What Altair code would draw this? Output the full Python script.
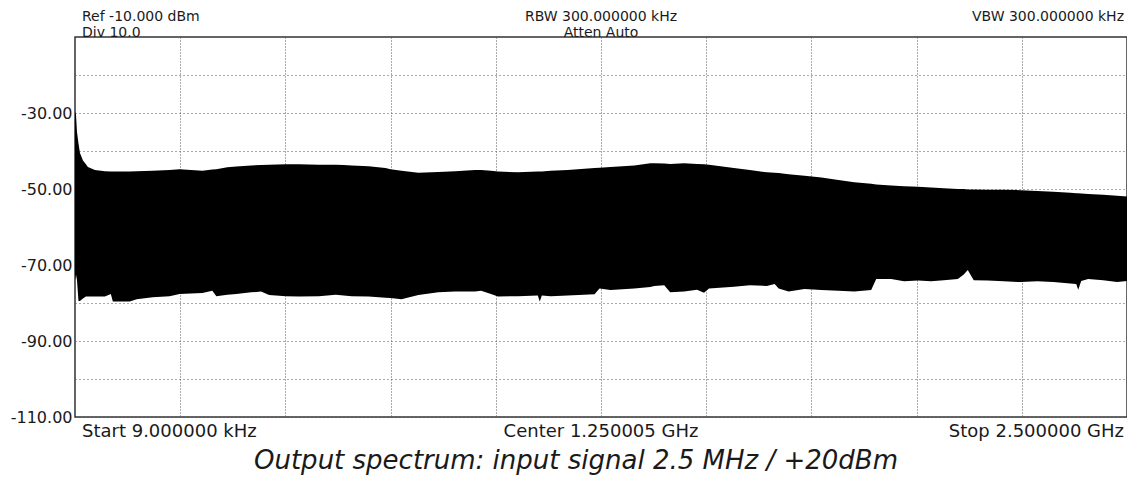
import altair as alt
import pandas as pd

# Frequency (MHz) and envelope values (dBm)
freq_mhz = [0.009, 2.4, 4.7, 8.3, 11.8, 18.9, 26.0, 30.7, 47.3, 71.0, 85.1, 89.9,
            130.1, 146.6, 184.5, 224.7, 248.4, 302.8, 326.4, 335.9, 361.9, 383.2,
            418.7, 442.3, 461.2, 501.4, 532.2, 579.5, 619.7, 638.6, 657.5, 697.7,
            737.9, 749.8, 775.8, 816.0, 863.3, 903.5, 950.8, 965.0, 988.6, 1005.2,
            1052.5, 1099.8, 1104.5, 1109.3, 1130.6, 1170.8, 1234.6, 1246.4, 1272.5,
            1329.2, 1367.1, 1376.5, 1400.2, 1414.4, 1447.5, 1478.2, 1494.8, 1506.6,
            1565.8, 1603.6, 1643.8, 1662.7, 1672.2, 1695.8, 1733.7, 1773.9, 1814.1,
            1851.9, 1892.1, 1904.0, 1939.5, 1970.2, 2003.4, 2034.1, 2064.8, 2097.9,
            2112.1, 2121.6, 2135.8, 2168.9, 2206.7, 2246.9, 2287.1, 2325.0, 2365.2,
            2379.4, 2384.1, 2391.2, 2407.8, 2443.3, 2476.4, 2500.0]

upper_dbm = [-29.5, -30.5, -35.0, -38.0, -40.5, -42.5, -43.5, -44.2, -45.0, -45.3, -45.4, -45.4,
             -45.4, -45.3, -45.2, -45.0, -44.8, -45.2, -44.9, -44.8, -44.3, -44.1,
             -43.8, -43.7, -43.6, -43.5, -43.5, -43.6, -43.6, -43.7, -43.8, -44.0,
             -44.5, -44.8, -45.2, -45.7, -45.5, -45.3, -45.0, -45.0, -45.2, -45.4,
             -45.6, -45.4, -45.4, -45.4, -45.2, -45.0, -44.5, -44.4, -44.2,
             -43.8, -43.2, -43.2, -43.3, -43.4, -43.2, -43.4, -43.5, -43.6,
             -44.5, -45.0, -45.6, -45.7, -45.8, -46.1, -46.5, -47.0, -47.6,
             -48.2, -48.6, -48.8, -49.1, -49.3, -49.4, -49.6, -49.8, -50.0,
             -50.0, -50.1, -50.1, -50.2, -50.2, -50.3, -50.5, -50.7, -51.0,
             -51.1, -51.1, -51.2, -51.3, -51.5, -51.8, -52.0]

lower_dbm = [-74.0, -72.5, -74.0, -79.5, -79.5, -78.8, -78.3, -78.3, -78.3, -78.3, -77.6, -79.6,
             -79.6, -79.0, -78.5, -78.2, -77.6, -77.4, -76.8, -78.2, -77.8, -77.6,
             -77.2, -77.0, -77.9, -78.2, -78.3, -78.2, -77.8, -78.0, -78.2, -78.3,
             -78.6, -78.7, -79.0, -77.9, -77.2, -77.0, -77.0, -76.8, -77.6, -78.3,
             -78.2, -78.0, -79.6, -78.0, -78.2, -78.0, -77.7, -76.2, -76.6,
             -76.2, -75.8, -75.5, -75.3, -77.2, -77.0, -76.5, -77.3, -76.2,
             -75.7, -75.3, -75.5, -75.0, -76.2, -77.0, -76.3, -76.6, -76.8,
             -77.0, -76.6, -73.7, -73.7, -74.3, -74.1, -74.3, -74.0, -73.7,
             -72.5, -71.3, -74.0, -74.1, -74.3, -74.5, -74.3, -74.5, -74.9,
             -75.0, -76.5, -74.2, -73.7, -74.0, -74.5, -74.2]

y_ticks = [-110, -100, -90, -80, -70, -60, -50, -40, -30, -20]
x_grid = [250, 500, 750, 1000, 1250, 1500, 1750, 2000, 2250]

header_left = ["Ref -10.000 dBm", "Div 10.0"]
header_center = ["RBW 300.000000 kHz", "Atten Auto"]
header_right = ["VBW 300.000000 kHz"]
bottom_left = "Start 9.000000 kHz"
bottom_center = "Center 1.250005 GHz"
bottom_right = "Stop 2.500000 GHz"
caption = "Output spectrum: input signal 2.5 MHz / +20dBm"

FONT = "DejaVu Sans"
TXT = "#1a1a1a"

trace = pd.DataFrame({"f": freq_mhz, "hi": upper_dbm, "lo": lower_dbm})

xscale = alt.Scale(domain=[0, 2500], nice=False, zero=False)
yscale = alt.Scale(domain=[-110, -10], nice=False, zero=False)

area = alt.Chart(trace).mark_area(color="black", opacity=1, interpolate="linear").encode(
    x=alt.X("f:Q", scale=xscale,
            axis=alt.Axis(values=x_grid, labels=False, ticks=False, domain=False, title=None,
                          grid=True, gridDash=[1, 2], gridColor="#555", gridWidth=1)),
    y=alt.Y("hi:Q", scale=yscale,
            axis=alt.Axis(values=y_ticks, ticks=False, tickSize=0, domain=False, title=None,
                          grid=True, gridDash=[1, 3], gridColor="#555", gridWidth=1,
                          labelExpr="(abs(datum.value) - 10) % 20 == 0 ? datum.value + '.00' : ''",
                          labelFont=FONT, labelFontSize=16, labelColor=TXT, labelPadding=3,
                          labelFlush=False, labelBaseline="middle")),
    y2="lo:Q",
)


def text_layer(text, f, py, align, dx=0, size=14, style="normal"):
    df = pd.DataFrame({"t": [text], "f": [f]})
    return alt.Chart(df).mark_text(align=align, baseline="alphabetic", font=FONT, dx=dx,
                                   fontSize=size, fontStyle=style, color=TXT).encode(
        x=alt.X("f:Q", scale=xscale),
        y=alt.value(py),
        text="t:N",
    )


layers = [
    area,
    text_layer(header_left[0], 0, -16.5, "left", dx=7),
    text_layer(header_left[1], 0, -0.5, "left", dx=7),
    text_layer(header_center[0], 1250, -16.5, "center"),
    text_layer(header_center[1], 1250, -0.5, "center"),
    text_layer(header_right[0], 2500, -16.5, "right", dx=-3),
    text_layer(bottom_left, 0, 400, "left", dx=7, size=18),
    text_layer(bottom_center, 1250, 400, "center", size=18),
    text_layer(bottom_right, 2500, 400, "right", dx=-3, size=18),
]

cap = alt.Chart(pd.DataFrame({"t": [caption]})).mark_text(
    align="center", baseline="alphabetic", font=FONT, fontSize=26, fontStyle="italic", color=TXT
).encode(x=alt.value(501), y=alt.value(432), text="t:N")
layers.append(cap)

chart = alt.layer(*layers).properties(
    width=1052, height=380,
    autosize=alt.AutoSizeParams(type="none"),
    padding={"left": 67, "top": 29, "right": 0, "bottom": 58},
    background="white",
).configure_view(stroke="#333", strokeWidth=1.5)

chart.save("out.html", embed_options={"renderer": "svg", "actions": False})
